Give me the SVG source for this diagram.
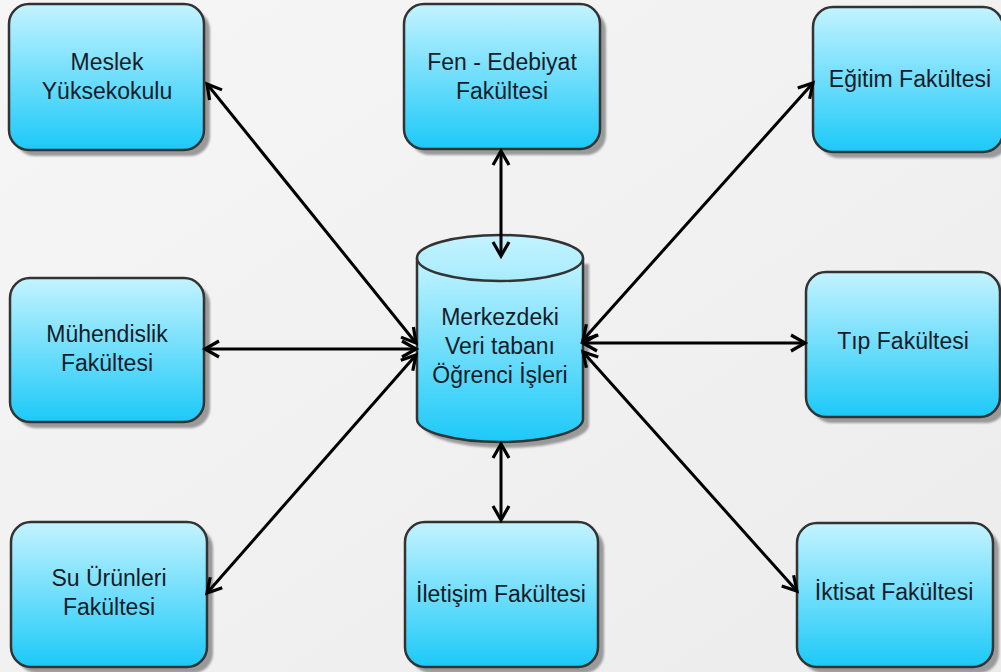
<svg xmlns="http://www.w3.org/2000/svg" width="1001" height="672" viewBox="0 0 1001 672">
<style>
.box{fill:url(#g);stroke:#333;stroke-width:2.5}
.sh{fill:#9a9a9a;filter:url(#blur)}
.t{font-family:"Liberation Sans",Arial,sans-serif;font-size:23px;fill:#141c28;text-anchor:middle}
.c{stroke:#000;stroke-width:3;fill:none;marker-start:url(#a);marker-end:url(#a)}
</style>
<defs>
<linearGradient id="bg" x1="0" y1="0" x2="1" y2="1">
<stop offset="0" stop-color="#f6f6f6"/><stop offset="0.5" stop-color="#f1f1f1"/><stop offset="1" stop-color="#ececec"/>
</linearGradient>
<linearGradient id="g" x1="0" y1="0" x2="0" y2="1">
<stop offset="0" stop-color="#c4f3ff"/><stop offset="1" stop-color="#1cc9f8"/>
</linearGradient>
<linearGradient id="gt" x1="0" y1="0" x2="0" y2="1">
<stop offset="0" stop-color="#c4f3ff"/><stop offset="1" stop-color="#a8ecff"/>
</linearGradient>
<filter id="blur" x="-10%" y="-10%" width="120%" height="120%"><feGaussianBlur stdDeviation="1.2"/></filter>
<marker id="a" markerUnits="userSpaceOnUse" markerWidth="34" markerHeight="34" viewBox="-17 -17 34 34" refX="0" refY="0" orient="auto-start-reverse">
<path d="M-14,-8 L0,0 L-14,8" fill="none" stroke="#000" stroke-width="3.2" stroke-linejoin="miter"/>
</marker>
</defs>
<rect width="1001" height="672" fill="url(#bg)"/>

<g id="meslek">
<rect class="sh" x="15" y="10" width="195" height="146" rx="20"/>
<rect class="box" x="9" y="4" width="195" height="146" rx="20"/>
<text class="t" x="107" y="70">Meslek</text>
<text class="t" x="107" y="99">Yüksekokulu</text>
</g>

<g id="fen">
<rect class="sh" x="410" y="10" width="196" height="145" rx="20"/>
<rect class="box" x="404" y="4" width="196" height="145" rx="20"/>
<text class="t" x="502" y="70">Fen - Edebiyat</text>
<text class="t" x="502" y="99">Fakültesi</text>
</g>

<g id="egitim">
<rect class="sh" x="819" y="13" width="190" height="145" rx="20"/>
<rect class="box" x="813" y="7" width="190" height="145" rx="20"/>
<text class="t" x="910" y="87">Eğitim Fakültesi</text>
</g>

<g id="muhendislik">
<rect class="sh" x="16" y="284" width="194" height="144" rx="20"/>
<rect class="box" x="10" y="278" width="194" height="144" rx="20"/>
<text class="t" x="107" y="342">Mühendislik</text>
<text class="t" x="107" y="371">Fakültesi</text>
</g>

<g id="tip">
<rect class="sh" x="812" y="278" width="194" height="145" rx="20"/>
<rect class="box" x="806" y="272" width="194" height="145" rx="20"/>
<text class="t" x="903" y="349">Tıp Fakültesi</text>
</g>

<g id="su">
<rect class="sh" x="17" y="528" width="196" height="145" rx="20"/>
<rect class="box" x="11" y="522" width="196" height="145" rx="20"/>
<text class="t" x="109" y="586">Su Ürünleri</text>
<text class="t" x="109" y="615">Fakültesi</text>
</g>

<g id="iletisim">
<rect class="sh" x="411" y="528" width="193" height="145" rx="20"/>
<rect class="box" x="405" y="522" width="193" height="145" rx="20"/>
<text class="t" x="501" y="602">İletişim Fakültesi</text>
</g>

<g id="iktisat">
<rect class="sh" x="803" y="529" width="196" height="144" rx="20"/>
<rect class="box" x="797" y="523" width="196" height="144" rx="20"/>
<text class="t" x="894" y="600">İktisat Fakültesi</text>
</g>

<g id="veritabani">
<path class="sh" d="M423,264 L423,425 A83,23 0 0 0 589,425 L589,264 Z"/>
<path class="box" d="M417,258 L417,419 A83,23 0 0 0 583,419 L583,258"/>
<ellipse cx="500" cy="258" rx="83" ry="23" fill="url(#gt)" stroke="#333" stroke-width="2.5"/>
<text class="t" x="500" y="325">Merkezdeki</text>
<text class="t" x="500" y="354">Veri tabanı</text>
<text class="t" x="500" y="383">Öğrenci İşleri</text>
</g>

<g id="connectors">
<line class="c" x1="207" y1="84" x2="416" y2="343"/>
<line class="c" x1="501" y1="151" x2="501" y2="256"/>
<line class="c" x1="583" y1="340" x2="813" y2="83"/>
<line class="c" x1="205" y1="349" x2="416" y2="349"/>
<line class="c" x1="583" y1="343" x2="805" y2="343"/>
<line class="c" x1="207" y1="593" x2="416" y2="355"/>
<line class="c" x1="501" y1="444" x2="501" y2="520"/>
<line class="c" x1="583" y1="352" x2="797" y2="591"/>
</g>
</svg>
